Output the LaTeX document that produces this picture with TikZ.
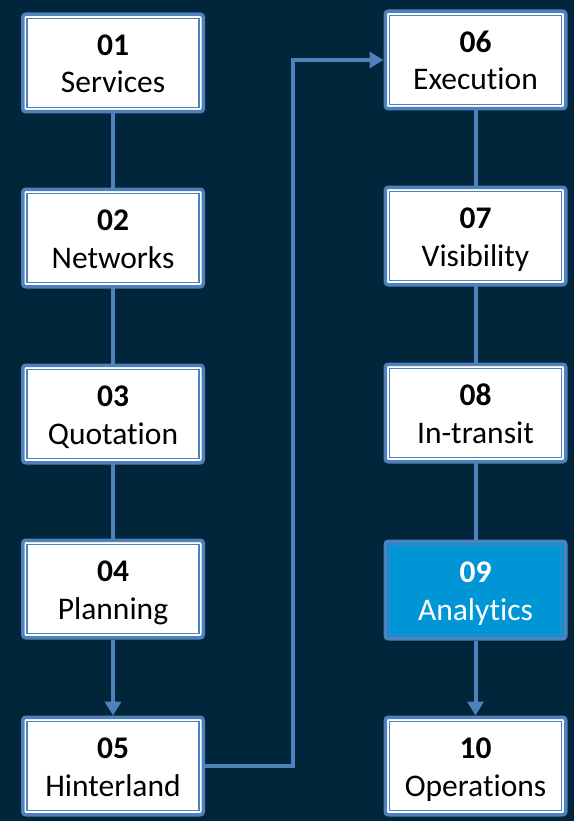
\documentclass[tikz,border=0pt]{standalone}
\usepackage{fontspec}
\setmainfont[Ligatures={NoCommon}]{Carlito}
\usetikzlibrary{arrows.meta}
\definecolor{bg}{RGB}{1,38,59}
\definecolor{edge}{RGB}{79,129,189}
\definecolor{hl}{RGB}{0,150,214}
\begin{document}
\begin{tikzpicture}[x=1pt,y=-1pt,
  stepbox/.style={draw=edge, line width=3.5pt, fill=white, rounded corners=3pt,
    minimum width=180.5pt, minimum height=97.5pt, inner sep=0pt},
  hlbox/.style={stepbox, fill=hl},
  innerline/.style={draw=edge, line width=1.4pt},
  numtxt/.style={anchor=base, font=\fontsize{31.5}{38}\selectfont\bfseries, text=black, inner sep=0pt},
  labtxt/.style={anchor=base, font=\fontsize{31.5}{38}\selectfont, text=black, inner sep=0pt},
  link/.style={draw=edge, line width=4pt},
  tip/.style={-{Triangle[length=14pt,width=16pt]}}]
\fill[bg] (0,0) rectangle (574,821);
\useasboundingbox (0,0) rectangle (574,821);

% connectors
\draw[link] (113,63) -- (113,589);
\draw[link] (475.5,60) -- (475.5,590);

% boxes
\node[stepbox] (b1) at (113,63) {};
\node[stepbox] (b2) at (113,238) {};
\node[stepbox] (b3) at (113,414) {};
\node[stepbox] (b4) at (113,589) {};
\node[stepbox] (b5) at (113,766) {};
\node[stepbox] (b6) at (475.5,60) {};
\node[stepbox] (b7) at (475.5,236) {};
\node[stepbox] (b8) at (475.5,413) {};
\node[hlbox]   (b9) at (475.5,590) {};
\node[stepbox] (b10) at (475.5,766) {};

\foreach \b in {b1,b2,b3,b4,b5,b6,b7,b8,b9,b10}{
  \draw[innerline] ([shift={(6,6)}]\b.north west) rectangle ([shift={(-6,-6)}]\b.south east);
}

% texts
\node[numtxt] (n1) at (113,55.5) {01};
\node[labtxt] (t1) at (113,93) {Services};
\node[numtxt] (n2) at (113,230.5) {02};
\node[labtxt] (t2) at (113,268) {Networks};
\node[numtxt] (n3) at (113,406.5) {03};
\node[labtxt] (t3) at (113,444) {Quotation};
\node[numtxt] (n4) at (113,581.5) {04};
\node[labtxt] (t4) at (113,619) {Planning};
\node[numtxt] (n5) at (113,758.5) {05};
\node[labtxt] (t5) at (113,796) {Hinterland};
\node[numtxt] (n6) at (475.5,52.5) {06};
\node[labtxt] (t6) at (475.5,90) {Execution};
\node[numtxt] (n7) at (475.5,228.5) {07};
\node[labtxt] (t7) at (475.5,266) {Visibility};
\node[numtxt] (n8) at (475.5,405.5) {08};
\node[labtxt] (t8) at (475.5,443) {In-transit};
\node[numtxt, text=white] (n9) at (475.5,582.5) {09};
\node[labtxt, text=white] (t9) at (475.5,620) {Analytics};
\node[numtxt] (n10) at (475.5,758.5) {10};
\node[labtxt] (t10) at (475.5,796) {Operations};

% arrows
\draw[link,tip] (b4.south) -- (b5.north);
\draw[link,tip] (b9.south) -- (b10.north);
\draw[link,tip,line join=miter] (b5.east) -- (293,766) |- (b6.west);
\end{tikzpicture}
\end{document}
